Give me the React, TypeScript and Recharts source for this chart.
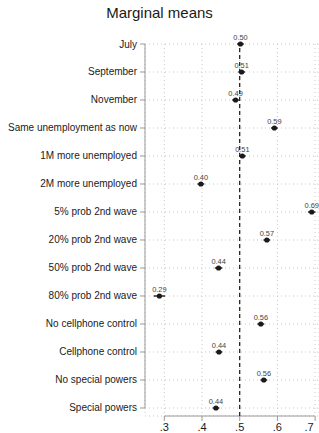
import React from "react";
import {
  ComposedChart,
  Scatter,
  XAxis,
  YAxis,
  CartesianGrid,
  ReferenceLine,
} from "recharts";

const categories = [
  "July",
  "September",
  "November",
  "Same unemployment as now",
  "1M more unemployed",
  "2M more unemployed",
  "5% prob 2nd wave",
  "20% prob 2nd wave",
  "50% prob 2nd wave",
  "80% prob 2nd wave",
  "No cellphone control",
  "Cellphone control",
  "No special powers",
  "Special powers",
];

const means = [0.502, 0.505, 0.489, 0.592, 0.507, 0.397, 0.691, 0.572, 0.444, 0.287, 0.556, 0.445, 0.564, 0.437];
const meanLabels = ["0.50", "0.51", "0.49", "0.59", "0.51", "0.40", "0.69", "0.57", "0.44", "0.29", "0.56", "0.44", "0.56", "0.44"];
const ciLow = [0.493, 0.496, 0.48, 0.583, 0.498, 0.388, 0.681, 0.563, 0.434, 0.272, 0.547, 0.436, 0.555, 0.428];
const ciHigh = [0.511, 0.514, 0.498, 0.601, 0.516, 0.406, 0.701, 0.581, 0.454, 0.302, 0.565, 0.454, 0.573, 0.446];

const xTicks = [0.3, 0.4, 0.5, 0.6, 0.7];
const xTickLabels = [".3", ".4", ".5", ".6", ".7"];

const data = categories.map((c, i) => ({
  row: i,
  cat: c,
  value: means[i],
  label: meanLabels[i],
}));

const rowTicks = categories.map((_, i) => i);
const X_MIN = 0.2488;
const X_MAX = 0.7103;
const Y_MAX = 13.286;
const FONT = "'Liberation Sans', Arial, Helvetica, sans-serif";

const Marker = (props: any) => {
  const { cx, cy, payload } = props;
  return (
    <g>
      <circle cx={cx} cy={cy} r={2.6} fill="#1a1a1a" />
      <text
        x={cx}
        y={cy - 4}
        textAnchor="middle"
        fontSize={7.4}
        fill="#444"
        fontFamily={FONT}
      >
        {payload.label}
      </text>
    </g>
  );
};

const YTick = (props: any) => {
  const { x, y, payload } = props;
  return (
    <text
      x={x}
      y={y}
      dy="0.35em"
      textAnchor="end"
      fontSize={10}
      fill="#1a1a1a"
      fontFamily={FONT}
    >
      {categories[Math.round(payload.value)]}
    </text>
  );
};

const XTick = (props: any) => {
  const { x, y, payload } = props;
  const idx = xTicks.findIndex((t) => Math.abs(t - payload.value) < 1e-6);
  return (
    <text
      x={x}
      y={y}
      dy="0.71em"
      textAnchor="middle"
      fontSize={11}
      fill="#1a1a1a"
      fontFamily={FONT}
    >
      {xTickLabels[idx]}
    </text>
  );
};

export default function App() {
  return (
    <div style={{ position: "absolute", left: 0, top: 0, width: 319, height: 433, background: "#fff" }}>
      <div
        style={{
          position: "absolute",
          left: 0,
          top: 4,
          width: 319,
          textAlign: "center",
          fontFamily: FONT,
          fontSize: 15,
          color: "#1a1a1a",
          lineHeight: "18px",
        }}
      >
        Marginal means
      </div>
      <ComposedChart
        width={319}
        height={433}
        data={data}
        margin={{ top: 44, right: 0, bottom: 0, left: 0 }}
        style={{ fontFamily: FONT }}
      >
        <CartesianGrid stroke="#c8c8c8" strokeDasharray="1 3" />
        <XAxis
          type="number"
          dataKey="value"
          domain={[X_MIN, X_MAX]}
          ticks={xTicks}
          axisLine={false}
          tickLine={{ stroke: "#999" }}
          tickSize={5}
          tickMargin={2}
          height={17}
          tick={<XTick />}
        />
        <YAxis
          type="number"
          dataKey="row"
          domain={[0, Y_MAX]}
          reversed
          ticks={rowTicks}
          interval={0}
          axisLine={false}
          tickLine={{ stroke: "#999" }}
          tickSize={5}
          tickMargin={3}
          width={145}
          tick={<YTick />}
        />
        <ReferenceLine
          segment={[
            { x: X_MIN, y: 0 },
            { x: X_MIN, y: 13 },
          ]}
          stroke="#999"
          strokeWidth={1}
          ifOverflow="visible"
        />
        <ReferenceLine
          segment={[
            { x: 0.3, y: Y_MAX },
            { x: 0.7, y: Y_MAX },
          ]}
          stroke="#999"
          strokeWidth={1}
          ifOverflow="visible"
        />
        <ReferenceLine x={0.5} stroke="#111" strokeWidth={1.2} strokeDasharray="4 3" ifOverflow="visible" />
        {data.map((d) => (
          <ReferenceLine
            key={d.cat}
            segment={[
              { x: ciLow[d.row], y: d.row },
              { x: ciHigh[d.row], y: d.row },
            ]}
            stroke="#1a1a1a"
            strokeWidth={1.4}
            ifOverflow="visible"
          />
        ))}
        <Scatter dataKey="value" isAnimationActive={false} shape={<Marker />} />
      </ComposedChart>
    </div>
  );
}
